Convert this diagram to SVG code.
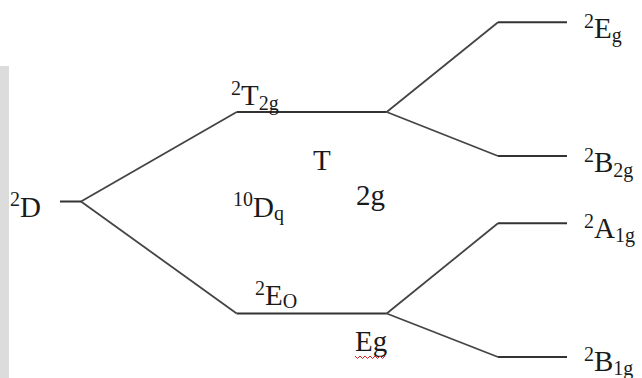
<svg xmlns="http://www.w3.org/2000/svg" width="642" height="378" viewBox="0 0 642 378">
<style>
text{font-family:"Liberation Serif","Times New Roman",serif;fill:#1a1a1a}
.m{font-size:29px}
.s{font-size:20px}
.lvl{stroke:#333;stroke-width:2;fill:none}
.conn{stroke:#444;stroke-width:1.8;fill:none}
</style>
<rect width="642" height="378" fill="#fff"/>
<rect x="0" y="66" width="9" height="312" fill="#dcdcdc"/>
<g id="connectors">
<line class="conn" x1="81" y1="201.5" x2="236.7" y2="112"/>
<line class="conn" x1="81" y1="201.5" x2="236.7" y2="313.5"/>
<line class="conn" x1="386.7" y1="112" x2="498" y2="22.3"/>
<line class="conn" x1="386.7" y1="112" x2="498" y2="156"/>
<line class="conn" x1="386.7" y1="313.5" x2="498" y2="223.3"/>
<line class="conn" x1="386.7" y1="313.5" x2="498" y2="357"/>
</g>
<g id="n-2D">
<line class="lvl" x1="60" y1="201.5" x2="81" y2="201.5"/>
<text x="10" y="217" class="m"><tspan class="s" dy="-11">2</tspan><tspan dy="11">D</tspan></text>
</g>
<g id="n-2T2g">
<line class="lvl" x1="236.7" y1="112" x2="386.7" y2="112"/>
<text x="231" y="105" class="m"><tspan class="s" dy="-10">2</tspan><tspan dy="10">T</tspan><tspan class="s" dy="5">2g</tspan></text>
</g>
<g id="n-2Eo">
<line class="lvl" x1="236.7" y1="313.5" x2="386.7" y2="313.5"/>
<text x="255" y="305" class="m"><tspan class="s" dy="-10">2</tspan><tspan dy="10">E</tspan><tspan class="s" dy="3">O</tspan></text>
</g>
<g id="n-2Eg">
<line class="lvl" x1="498" y1="22.3" x2="567" y2="22.3"/>
<text x="584" y="38" class="m"><tspan class="s" dy="-10">2</tspan><tspan dy="10">E</tspan><tspan class="s" dy="4">g</tspan></text>
</g>
<g id="n-2B2g">
<line class="lvl" x1="498" y1="156" x2="567" y2="156"/>
<text x="584" y="172" class="m"><tspan class="s" dy="-10">2</tspan><tspan dy="10">B</tspan><tspan class="s" dy="5">2g</tspan></text>
</g>
<g id="n-2A1g">
<line class="lvl" x1="498" y1="223.3" x2="567" y2="223.3"/>
<text x="584" y="238" class="m"><tspan class="s" dy="-10">2</tspan><tspan dy="10">A</tspan><tspan class="s" dy="4">1g</tspan></text>
</g>
<g id="n-2B1g">
<line class="lvl" x1="498" y1="357" x2="567" y2="357"/>
<text x="584" y="371" class="m"><tspan class="s" dy="-10">2</tspan><tspan dy="10">B</tspan><tspan class="s" dy="4">1g</tspan></text>
</g>
<g id="label-T">
<text x="313" y="169.5" class="m">T</text>
</g>
<g id="label-2g">
<text x="356" y="205" class="m">2g</text>
</g>
<g id="label-10Dq">
<text x="233" y="206" class="s">10<tspan class="m" dy="11">D</tspan><tspan dy="3">q</tspan></text>
</g>
<g id="label-Eg">
<text x="355" y="351" class="m">Eg</text>
<path d="M355,356 l2.5,2.5 l2.5,-2.5 l2.5,2.5 l2.5,-2.5 l2.5,2.5 l2.5,-2.5 l2.5,2.5 l2.5,-2.5 l2.5,2.5 l2.5,-2.5 l2.5,2.5 l2.5,-2.5" stroke="#e02020" stroke-width="1" fill="none"/>
</g>
</svg>
